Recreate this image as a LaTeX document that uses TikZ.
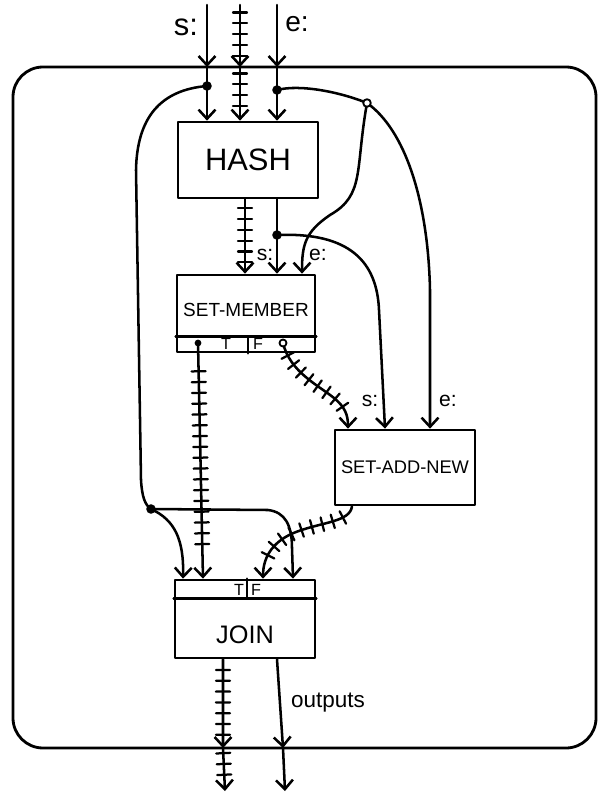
\documentclass[tikz,border=0pt]{standalone}
\usepackage{fontspec}
\setmainfont{Liberation Sans}
\usetikzlibrary{arrows.meta,decorations.markings}

\begin{document}
\begin{tikzpicture}[
    x=0.025cm, y=-0.025cm,
    line cap=round, line join=round,
    box/.style={draw, line width=1.9pt, minimum width=3.5cm, minimum height=1.9cm, inner xsep=2pt, align=center},
    line/.style={line width=1.8pt},
    wire/.style={line, -{Straight Barb[length=6.5pt,width=12pt]}},
    bus/.style={wire, decoration={markings, mark=between positions 0.12 and 0.86 step 0.27cm with {\draw[-, line width=1.6pt] (0pt,-5pt) -- (0pt,5pt);}}, postaction={decorate}},
    big/.style={font=\fontsize{22}{24}\selectfont},
    lbl/.style={font=\fontsize{15}{17}\selectfont},
    port/.style={font=\fontsize{11.5}{12}\selectfont}
]
\useasboundingbox (0,0) rectangle (600,793);

% Frame
\draw[line width=2pt, rounded corners=0.75cm] (13,67) rectangle (596,748);

% Boxes
\node[box, font=\fontsize{22}{24}\selectfont] (hash) at (248,160) {HASH};
\node[box, minimum width=3.45cm, minimum height=1.925cm, text depth=5pt, font=\fontsize{13.5}{15}\selectfont] (member) at (246,313.5) {SET-MEMBER};
\node[box, minimum height=1.875cm, font=\fontsize{13}{15}\selectfont] (addnew) at (405,467.5) {SET-ADD-NEW};
\node[box, minimum height=1.95cm, text height=35pt, font=\fontsize{18}{20}\selectfont] (join) at (245,619) {JOIN};

% T/F strips
\draw[line] ([yshift=0.425cm]member.south west) -- ([yshift=0.425cm]member.south east);
\draw[line] ([xshift=0.05cm,yshift=0.425cm]member.south) -- ([xshift=0.05cm]member.south);
\node[port] (mt) at (226,344) {T};
\node[port] (mf) at (258,344) {F};
\draw[line] ([yshift=-0.5cm]join.north west) -- ([yshift=-0.5cm]join.north east);
\draw[line] ([xshift=0.05cm]join.north) -- ([xshift=0.05cm,yshift=-0.5cm]join.north);
\node[port] (jt) at (239,590) {T};
\node[port] (jf) at (256,590) {F};

% Junction points
\coordinate (sdot) at (207,86);
\coordinate (edot) at (277,90);
\coordinate (esplit) at (367,103);
\coordinate (hsdot) at (277,235);
\coordinate (jdot) at (151,509);
\coordinate (tdot) at (198,343);
\coordinate (fdot) at (283,343);

% Inputs
\coordinate (sin) at (207,5);
\coordinate (sedge) at (207,67);
\coordinate (bin) at (240,5);
\coordinate (bedge) at (240,67);
\coordinate (ein) at (277,5);
\coordinate (eedge) at (277,67);
\draw[wire] (sin) -- (sedge);
\draw[wire] (sedge) -- (sedge |- hash.north);
\draw[bus] (bin) -- (bedge);
\draw[bus] (bedge) -- (bedge |- hash.north);
\draw[wire] (ein) -- (eedge);
\draw[wire] (eedge) -- (eedge |- hash.north);
\node[big] (sname) at (186,27) {s:};
\node[big, font=\fontsize{20}{22}\selectfont] (ename) at (297,24) {e:};

% HASH to SET-MEMBER
\draw[bus] ([xshift=-0.075cm]hash.south) -- ([xshift=-0.075cm]hash.south |- member.north);
\draw[wire] (hsdot |- hash.south) -- (hsdot |- member.north);
\draw[line] (edot) .. controls (300,84) and (340,92) .. (esplit);
\draw[wire] (esplit) .. controls (355,170) and (365,195) .. (330,215) .. controls (305,232) and (302,245) .. ([xshift=1.4cm]member.north);
\node[lbl] (ms) at (265,255) {s:};
\node[lbl] (me) at (318,255) {e:};

% Into SET-ADD-NEW
\draw[bus] (fdot) .. controls (290,372) and (318,385) .. (334,398) .. controls (345,407) and (348,415) .. ([xshift=-1.425cm]addnew.north);
\draw[wire] (hsdot) .. controls (350,232) and (377,262) .. (379,310) -- ([xshift=-0.5cm]addnew.north);
\draw[wire] (esplit) .. controls (405,130) and (428,200) .. (430,290) -- ([xshift=0.625cm]addnew.north);
\node[lbl] (as) at (370,401) {s:};
\node[lbl] (ae) at (448,401) {e:};

% Into JOIN
\draw[line] (sdot) .. controls (160,90) and (137,118) .. (136,170) -- (141,480) .. controls (142,497) and (145,505) .. (jdot);
\draw[wire] (jdot) .. controls (175,520) and (184,540) .. ([xshift=-1.55cm]join.north);
\draw[wire] (jdot) -- (268,510) .. controls (285,512) and (292,525) .. (292,548) -- ([xshift=1.2cm]join.north);
\draw[bus] (tdot) -- ([xshift=-1.05cm]join.north);
\draw[bus] ([xshift=-1.325cm]addnew.south) .. controls (350,522) and (322,522) .. (296,532) .. controls (275,540) and (263,555) .. ([xshift=0.45cm]join.north);

% Outputs
\coordinate (oedge) at (223,748);
\coordinate (oout) at (225,791);
\coordinate (pedge) at (283,748);
\coordinate (pout) at (285,791);
\draw[bus] ([xshift=-0.55cm]join.south) -- (oedge);
\draw[bus] (oedge) -- (oout);
\draw[wire] ([xshift=0.8cm]join.south) -- (pedge);
\draw[wire] (pedge) -- (pout);
\node[lbl, font=\fontsize{16}{18}\selectfont] (outname) at (328,703) {outputs};

% Dots
\foreach \p in {sdot, edot, hsdot, jdot} \fill (\p) circle (3.4pt);
\fill (tdot) circle (2.4pt);
\draw[line width=1.3pt, fill=white] (esplit) circle (2.7pt);
\draw[line width=1.3pt, fill=white] (fdot) circle (2.5pt);

\end{tikzpicture}
\end{document}
